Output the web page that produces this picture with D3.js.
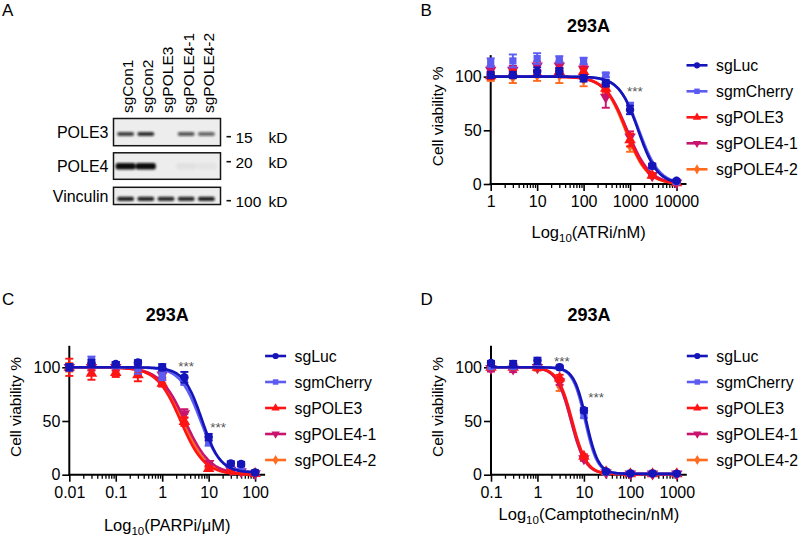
<!DOCTYPE html>
<html><head><meta charset="utf-8">
<script src="https://cdn.jsdelivr.net/npm/d3@7"></script>
<style>
body{margin:0;background:#fff;}
svg{display:block;font-family:"Liberation Sans",Arial,sans-serif;}
</style></head><body>
<svg id="fig" width="800" height="536"></svg>
<script>
// ================= DATA =================
const seriesNames = ["sgLuc","sgmCherry","sgPOLE3","sgPOLE4-1","sgPOLE4-2"];
const seriesColors = ["#1414b8","#5c5cf2","#ff1414","#c8146e","#ff6b1f"];
const seriesSymbols = ["circle","square","triangle","triangleDown","diamond"];

// Panel B: ATRi (nM)
const atriDoses = [1,3,10,30,100,300,1000,3000,10000];
const atriMean = [
  [101.5,101.5,104.6,105,98.4,93.8,69,17,3],
  [113,114.6,116.8,116,114.6,101.5,72.7,16.5,2],
  [100.6,103,102.5,104.6,104.6,89,41,8,1],
  [106,106,110,110,107,81,44,8,1],
  [100,99,101,101,97,87.6,35,7,1]
];
const atriSD = [
  [3,3,4,3,3,3,4,2,1],
  [4,6,5,3,3,2,3,2,1],
  [3,3,3,3,3,3,6,2,1],
  [4,4,4,4,4,10,5,1,1],
  [4,5,5,7,6,3,5,1,1]
];
const atriFit = [[1500,2.1,0],[1560,2.0,0],[830,1.9,0],[870,1.8,0],[800,1.9,0]]; // IC50, Hill, bottom
const atriStars = [[1270,89]];
const atriTicks = [1,10,100,1000,10000];

// Panel C: PARPi (uM)
const parpDoses = [0.01,0.03,0.1,0.3,1,3,10,30,50,100];
const parpMean = [
  [100,104,103,104.6,100,90.7,35,10.5,10,2],
  [100,107,102,99,92,86.6,31,9,7.5,2],
  [100,94.4,95,93,85,49.4,5.6,3.7,2.8,1],
  [100,100,100,97.5,93,57,10.5,4.3,3,1],
  [100,100.6,100,99,88,52.5,9,4.3,3,1]
];
const parpSD = [
  [3,3,2,2,3,5,3,2,2,2],
  [3,3,3,5,4,3,4,2,2,1],
  [8,6,4,6,3,4,2,1,2,1],
  [3,3,3,4,3,4,2,1,1,1],
  [4,3,3,4,3,4,2,1,1,1]
];
const parpFit = [[7.2,2.2,2],[6.6,2.0,2],[2.5,1.7,0],[3.1,1.6,0],[2.8,1.7,0]];
const parpStars = [[3.27,104.3],[16,47.2]];
const parpTicks = [0.01,0.1,1,10,100];

// Panel D: Camptothecin (nM)
const cptDoses = [0.1,0.3,1,3,10,30,100,300,1000];
const cptMean = [
  [104,103,106,100,60,3,1.2,1.2,1],
  [100.6,100.6,104,100,55,2.5,1.2,1.2,1],
  [100,100,100,90,17,2.5,0.8,0.8,0.8],
  [99,98.5,100,86.6,15,2,0.8,0.8,0.8],
  [100,100,98.8,82,15,2,0.8,0.8,0.8]
];
const cptSD = [
  [2,3,3,1,2,1,1,1,1],
  [2,2,3,1,2,1,1,1,1],
  [2,2,2,3,2,1,1,1,1],
  [3,3,2,3,2,1,1,1,1],
  [2,2,2,4,2,1,1,1,1]
];
const cptFit = [[11.2,3.3,0.8],[10.6,3.3,0.8],[5.6,2.8,0.5],[5.3,2.8,0.5],[5.3,2.8,0.5]];
const cptStars = [[3.34,108.7],[18.3,75]];
const cptTicks = [0.1,1,10,100,1000];

const yTicks = [0,50,100];

// Panel A: western blot
const laneLabels = ["sgCon1","sgCon2","sgPOLE3","sgPOLE4-1","sgPOLE4-2"];
const blotRows = ["POLE3","POLE4","Vinculin"];
const pole3Bands = [0.78,0.85,0,0.68,0.6];
const pole4Bands = [1,1,0,0.05,0.04];
const vinculinBands = [0.92,0.9,0.88,0.88,0.92];
const markerSizes = ["15","20","100"];

// ================= DRAW =================
const svg = d3.select("#fig");
const defs = svg.append("defs");
defs.append("filter").attr("id","blur").attr("x","-30%").attr("y","-80%").attr("width","160%").attr("height","260%")
  .append("feGaussianBlur").attr("stdDeviation",0.9);

// panel letters
[["A",2,15.5],["B",420.5,15.5],["C",2,305],["D",420.5,305]].forEach(([t,x,y])=>{
  svg.append("text").attr("x",x).attr("y",y).attr("font-size",17).text(t);
});

// ---- Western blot ----
(function(){
  const lane = d3.scaleBand().domain(laneLabels).range([115.5,216.5]).paddingInner(0.1).paddingOuter(0.05);
  const boxes = [
    {y0:118.5, y1:145.7, bands:pole3Bands, by:134, bh:4.2, bw:17, my:136.7},
    {y0:152.8, y1:179.3, bands:pole4Bands, by:166.3, bh:6.5, bw:20, my:161.7},
    {y0:187.3, y1:204.5, bands:vinculinBands, by:198.8, bh:4.2, bw:17, my:200.7}
  ];
  laneLabels.forEach(l=>{
    const cx = lane(l)+lane.bandwidth()/2 + 2;
    svg.append("text").attr("transform",`translate(${cx},113) rotate(-90)`)
      .attr("dy","0.35em").attr("font-size",15.5).text(l);
  });
  boxes.forEach((b,i)=>{
    svg.append("rect").attr("x",113.5).attr("y",b.y0).attr("width",107).attr("height",b.y1-b.y0)
      .attr("fill","#ededed").attr("stroke","#151515").attr("stroke-width",1.5);
    svg.append("text").attr("x",108.5).attr("y",(b.y0+b.y1)/2+5.8).attr("text-anchor","end")
      .attr("font-size",16).text(blotRows[i]);
    const g = svg.append("g").attr("filter","url(#blur)");
    g.selectAll("rect").data(b.bands).join("rect")
      .attr("x",(d,j)=>lane(laneLabels[j])+lane.bandwidth()/2-b.bw/2)
      .attr("y",b.by-b.bh/2).attr("width",b.bw).attr("height",b.bh).attr("rx",2)
      .attr("fill","#111").attr("opacity",d=>d);
    svg.append("line").attr("x1",226.5).attr("x2",231).attr("y1",b.my).attr("y2",b.my)
      .attr("stroke","#111").attr("stroke-width",1.6);
    svg.append("text").attr("x",235.5).attr("y",b.my+6).attr("font-size",15.5).text(markerSizes[i]);
    svg.append("text").attr("x",268.5).attr("y",b.my+6).attr("font-size",15.5).text("kD");
  });
  svg.append("line").attr("x1",131.5).attr("x2",131.5).attr("y1",119.5).attr("y2",126)
    .attr("stroke","#333").attr("stroke-width",1.2).attr("filter","url(#blur)");
})();

// ---- Dose-response panels ----
function symbolPath(kind,size){
  const t = {circle:d3.symbolCircle,square:d3.symbolSquare,triangle:d3.symbolTriangle,
    triangleDown:d3.symbolTriangle,diamond:d3.symbolDiamond}[kind];
  return d3.symbol().type(t).size(size)();
}
function fourPL(x,p){ return p[2] + (100-p[2])/(1+Math.pow(x/p[0],p[1])); }
const FONT = '"Liberation Sans",Arial,sans-serif';

function drawPanel(cfg){
  const g = svg.append("g");
  const n = cfg.doses.length;
  const first = cfg.doses[0], last = cfg.doses[n-1];
  const x = d3.scaleLog().domain([first,last]).range([cfg.ax, cfg.ax+4*46.45]);
  const xEnd = x(last)+10;
  const y = d3.scaleLinear().domain([0,100]).range([cfg.y0, cfg.y0-107.4]);
  const yTop = y(120);

  const minor = [];
  for(let d=first; d<last; d*=10){ for(let k=2;k<=9;k++) minor.push(d*k); }
  const gxm = g.append("g").attr("transform",`translate(0,${cfg.y0})`)
    .call(d3.axisBottom(x).tickValues(minor).tickSize(4).tickFormat("").tickSizeOuter(0));
  gxm.select(".domain").remove();
  gxm.selectAll(".tick line").attr("stroke","#000").attr("stroke-width",1.3);

  const gx = g.append("g").attr("transform",`translate(0,${cfg.y0})`)
    .call(d3.axisBottom(x).tickValues(cfg.ticks).tickSize(7).tickSizeOuter(0)
      .tickFormat(d=>d3.format("~g")(d)).tickPadding(5));
  gx.select(".domain").remove();
  gx.selectAll(".tick line").attr("stroke","#000").attr("stroke-width",1.6);
  gx.selectAll(".tick text").attr("font-size",16).attr("fill","#000").attr("font-family",FONT);
  g.append("line").attr("x1",cfg.ax-1).attr("x2",xEnd).attr("y1",cfg.y0).attr("y2",cfg.y0)
    .attr("stroke","#000").attr("stroke-width",2);

  const gy = g.append("g").attr("transform",`translate(${cfg.ax},0)`)
    .call(d3.axisLeft(y).tickValues(yTicks).tickSize(7).tickSizeOuter(0).tickPadding(2));
  gy.select(".domain").remove();
  gy.selectAll(".tick line").attr("stroke","#000").attr("stroke-width",1.6);
  gy.selectAll(".tick text").attr("font-size",16).attr("fill","#000").attr("font-family",FONT);
  g.append("line").attr("x1",cfg.ax).attr("x2",cfg.ax).attr("y1",cfg.y0+1).attr("y2",yTop)
    .attr("stroke","#000").attr("stroke-width",2);

  g.append("text").attr("x",(cfg.ax+xEnd)/2).attr("y",cfg.titleY).attr("text-anchor","middle")
    .attr("font-size",18).attr("font-weight","bold").text("293A");
  g.append("text").attr("transform",`translate(${cfg.ax-53.3},${y(63)}) rotate(-90)`)
    .attr("text-anchor","middle").attr("dy","0.35em").attr("font-size",15.5).text("Cell viability %");
  const xl = g.append("text").attr("x",(cfg.ax+xEnd)/2).attr("y",cfg.xLabelY).attr("text-anchor","middle")
    .attr("font-size",16.5);
  xl.append("tspan").text("Log");
  xl.append("tspan").attr("font-size",11.5).attr("dy",4).text("10");
  xl.append("tspan").attr("dy",-4).text(cfg.xLabel);

  const line = d3.line().x(d=>x(d[0])).y(d=>y(d[1]));
  for(let s=seriesNames.length-1; s>=0; s--){
    const col = seriesColors[s];
    const pts = d3.range(0,241).map(i=>{
      const xv = Math.pow(10, Math.log10(first) + (Math.log10(last)-Math.log10(first))*i/240);
      return [xv, fourPL(xv, cfg.fit[s])];
    });
    g.append("path").attr("d",line(pts)).attr("fill","none").attr("stroke",col).attr("stroke-width",2.6);
    const eg = g.append("g").attr("stroke",col).attr("stroke-width",1.9);
    cfg.doses.forEach((d,i)=>{
      const m = cfg.mean[s][i], e = cfg.sd[s][i];
      const cx = x(d);
      eg.append("line").attr("x1",cx).attr("x2",cx).attr("y1",y(m-e)).attr("y2",y(m+e));
      eg.append("line").attr("x1",cx-4).attr("x2",cx+4).attr("y1",y(m-e)).attr("y2",y(m-e));
      eg.append("line").attr("x1",cx-4).attr("x2",cx+4).attr("y1",y(m+e)).attr("y2",y(m+e));
    });
    const sym = seriesSymbols[s];
    g.selectAll(null).data(cfg.doses).join("path")
      .attr("d",symbolPath(sym, sym==="diamond"?40:(sym==="circle"?56:(sym==="square"?52:58))))
      .attr("transform",(d,i)=>`translate(${x(d)},${y(cfg.mean[s][i])})${sym==="triangleDown"?" rotate(180)":""}`)
      .attr("fill",col);
  }
  cfg.stars.forEach(([sx,sy])=>{
    g.append("text").attr("x",x(sx)).attr("y",y(sy)+8).attr("text-anchor","middle")
      .attr("font-size",13.5).attr("fill","#555").text("***");
  });
  seriesNames.forEach((nm,i)=>{
    const ly = cfg.y0-118.7+26*i;
    g.append("line").attr("x1",xEnd).attr("x2",xEnd+21).attr("y1",ly).attr("y2",ly)
      .attr("stroke",seriesColors[i]).attr("stroke-width",2.6);
    g.append("path").attr("d",symbolPath(seriesSymbols[i], 30))
      .attr("transform",`translate(${xEnd+10.5},${ly})${seriesSymbols[i]==="triangleDown"?" rotate(180)":""}`)
      .attr("fill",seriesColors[i]);
    g.append("text").attr("x",xEnd+29.5).attr("y",ly+5.8).attr("font-size",15.8).text(nm);
  });
}

drawPanel({doses:atriDoses, mean:atriMean, sd:atriSD, fit:atriFit, stars:atriStars, ticks:atriTicks,
  ax:490.7, y0:184, titleY:31.5, xLabelY:237.5, xLabel:"(ATRi/nM)"});
drawPanel({doses:parpDoses, mean:parpMean, sd:parpSD, fit:parpFit, stars:parpStars, ticks:parpTicks,
  ax:69.3, y0:474.7, titleY:320.5, xLabelY:531, xLabel:"(PARPi/\u03BCM)"});
drawPanel({doses:cptDoses, mean:cptMean, sd:cptSD, fit:cptFit, stars:cptStars, ticks:cptTicks,
  ax:491, y0:474.7, titleY:320.5, xLabelY:519.5, xLabel:"(Camptothecin/nM)"});
</script>
</body></html>
